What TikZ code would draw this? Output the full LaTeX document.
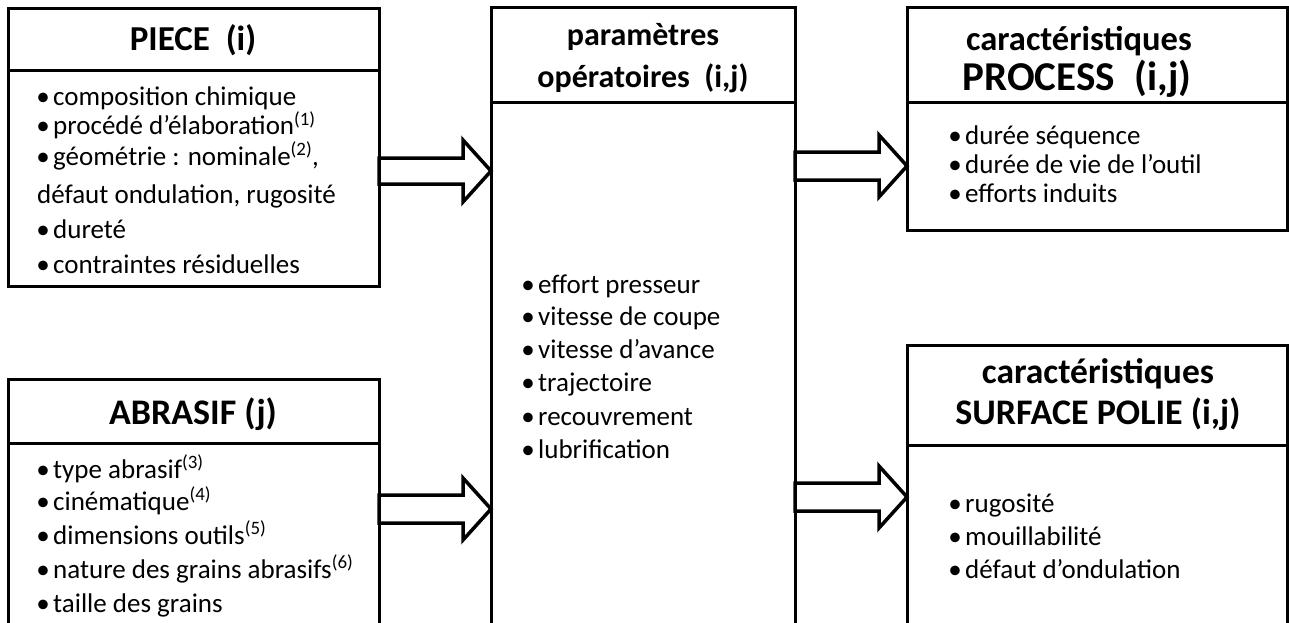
\documentclass[tikz,border=0pt]{standalone}
\usepackage{fontspec}
\setmainfont{Carlito}
\usetikzlibrary{calc}
\newcommand\itembul{\makebox[16pt][l]{\hspace{3pt}\makebox[6pt][c]{•}}}
\begin{document}
\begin{tikzpicture}[x=1pt,y=-1pt,
  frame/.style={draw, line width=3pt, anchor=north west, inner sep=0pt, outer sep=0pt},
  divider/.style={line width=3pt},
  ttl/.style={font=\bfseries\fontsize{36}{36}\selectfont, anchor=base, inner sep=0pt},
  itm/.style={font=\fontsize{27}{27}\selectfont, anchor=base west, inner sep=0pt,
    text height=19pt, text depth=5pt},
  blk/.style={line width=3.5pt, line join=miter}]
\useasboundingbox (0,0) rectangle (1289,623);
\clip (0,0) rectangle (1289,623);

% boxes
\node[frame, minimum width=371pt, minimum height=277pt] (piece) at (8,9) {};
\node[frame, minimum width=371pt, minimum height=280pt] (abrasif) at (8,379) {};
\node[frame, minimum width=304pt, minimum height=650pt] (param) at (491,8) {};
\node[frame, minimum width=380pt, minimum height=222pt] (process) at (907,8) {};
\node[frame, minimum width=380pt, minimum height=300pt] (surface) at (907,345) {};

% dividers
\draw[divider] (piece.west |- 0,71) -- (piece.east |- 0,71);
\draw[divider] (abrasif.west |- 0,443) -- (abrasif.east |- 0,443);
\draw[divider] (param.west |- 0,103) -- (param.east |- 0,103);
\draw[divider] (process.west |- 0,103) -- (process.east |- 0,103);
\draw[divider] (surface.west |- 0,445) -- (surface.east |- 0,445);

% titles
\node[ttl, font=\bfseries\fontsize{35}{35}\selectfont] (tpiece) at (193,51) {PIECE\ \ (i)};
\node[ttl] (tabrasif) at (193,424) {ABRASIF (j)};
\node[ttl, font=\bfseries\fontsize{32}{32}\selectfont] (tparam1) at (643,46) {paramètres};
\node[ttl, font=\bfseries\fontsize{32}{32}\selectfont] (tparam2) at (643,88) {opératoires\ \ (i,j)};
\node[ttl, font=\bfseries\fontsize{34.5}{34.5}\selectfont] (tproc1) at (1079,51) {caractéristiques};
\node[ttl, font=\bfseries\fontsize{41}{41}\selectfont] (tproc2) at (1077,91) {PROCESS\hspace{20pt}(i,j)};
\node[ttl, font=\bfseries\fontsize{35.5}{35.5}\selectfont] (tsurf1) at (1098,383) {caractéristiques};
\node[ttl] (tsurf2) at (1098,424) {SURFACE POLIE (i,j)};

% items
\foreach \t/\y [count=\i] in {
  {\itembul composition chimique}/106,
  {\itembul procédé d’élaboration\textsuperscript{(1)}}/135,
  {\itembul géométrie : nominale\textsuperscript{(2)},}/165,
  {défaut ondulation, rugosité}/203,
  {\itembul dureté}/238,
  {\itembul contraintes résiduelles}/273}
  \node[itm] (pi\i) at (37,\y) {\t};

\foreach \t/\y [count=\i] in {
  {\itembul type abrasif\textsuperscript{(3)}}/478,
  {\itembul cinématique\textsuperscript{(4)}}/510,
  {\itembul dimensions outils\textsuperscript{(5)}}/544,
  {\itembul nature des grains abrasifs\textsuperscript{(6)}}/578,
  {\itembul taille des grains}/612}
  \node[itm] (ab\i) at (37,\y) {\t};

\foreach \t/\y [count=\i] in {
  {\itembul effort presseur}/293,
  {\itembul vitesse de coupe}/325,
  {\itembul vitesse d’avance}/358,
  {\itembul trajectoire}/391,
  {\itembul recouvrement}/425,
  {\itembul lubrification}/458}
  \node[itm] (pa\i) at (522,\y) {\t};

\foreach \t/\y [count=\i] in {
  {\itembul durée séquence}/144,
  {\itembul durée de vie de l’outil}/173,
  {\itembul efforts induits}/202}
  \node[itm] (pr\i) at (949,\y) {\t};

\foreach \t/\y [count=\i] in {
  {\itembul rugosité}/512,
  {\itembul mouillabilité}/545,
  {\itembul défaut d’ondulation}/578}
  \node[itm] (su\i) at (949,\y) {\t};

% block arrows
\coordinate (a1) at (param.west |- 0,171);
\coordinate (a2) at (param.west |- 0,509);
\coordinate (a3) at (process.west |- 0,166);
\coordinate (a4) at (surface.west |- 0,497);

\draw[blk] ($(piece.east|-a1)+(0,-13)$) -- ($(a1)+(-28,-13)$) -- ($(a1)+(-28,-31)$) -- (a1)
  -- ($(a1)+(-28,31)$) -- ($(a1)+(-28,13)$) -- ($(piece.east|-a1)+(0,13)$) -- cycle;
\draw[blk] ($(abrasif.east|-a2)+(0,-14)$) -- ($(a2)+(-28,-14)$) -- ($(a2)+(-28,-31)$) -- (a2)
  -- ($(a2)+(-28,31)$) -- ($(a2)+(-28,14)$) -- ($(abrasif.east|-a2)+(0,14)$) -- cycle;
\draw[blk] ($(param.east|-a3)+(0,-14)$) -- ($(a3)+(-28,-14)$) -- ($(a3)+(-28,-31)$) -- (a3)
  -- ($(a3)+(-28,31)$) -- ($(a3)+(-28,14)$) -- ($(param.east|-a3)+(0,14)$) -- cycle;
\draw[blk] ($(param.east|-a4)+(0,-14)$) -- ($(a4)+(-28,-14)$) -- ($(a4)+(-28,-31)$) -- (a4)
  -- ($(a4)+(-28,31)$) -- ($(a4)+(-28,14)$) -- ($(param.east|-a4)+(0,14)$) -- cycle;
\end{tikzpicture}
\end{document}
